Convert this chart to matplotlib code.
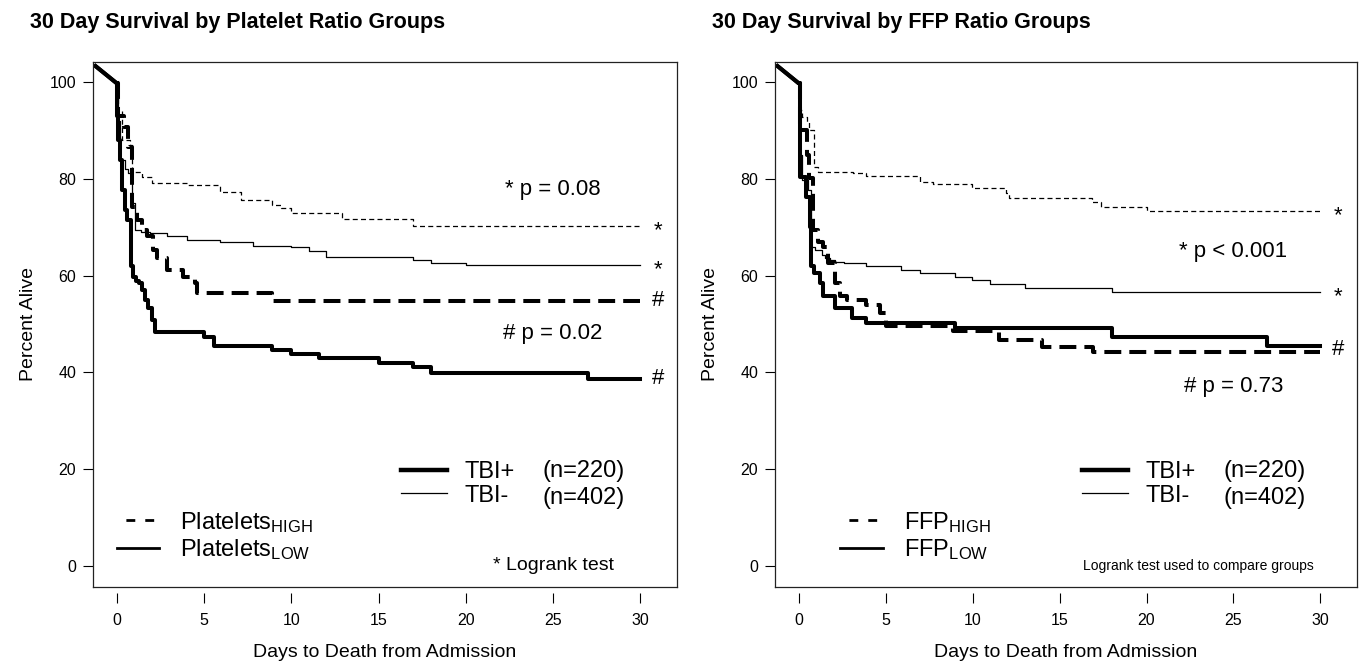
import matplotlib.pyplot as plt
from matplotlib.lines import Line2D

plt.rcParams['font.family'] = ['Liberation Sans', 'DejaVu Sans']
plt.rcParams['mathtext.fontset'] = 'custom'
plt.rcParams['mathtext.rm'] = 'Liberation Sans'
plt.rcParams['mathtext.it'] = 'Liberation Sans:italic'
plt.rcParams['mathtext.bf'] = 'Liberation Sans:bold'

# shared lead-in segment drawn before day 0
lead_x = [-1.3, 0.0]
lead_y = [103.6, 99.8]

# ---- Platelet ratio groups (days, percent alive) ----
plt_tbip_low_t = [0, 0.02, 0.1, 0.2, 0.3, 0.48, 0.6, 0.8, 0.96, 1.1, 1.25, 1.44, 1.63, 1.82, 2.0, 2.2,
                  5.0, 5.6, 8.9, 10.0, 11.6, 15.0, 17.0, 18.0, 27.0, 30]
plt_tbip_low_s = [99.8, 93, 88, 84, 77.7, 73.6, 71.5, 61.9, 59.8, 58.8, 58.4, 57.0, 55.0, 53.3, 50.8, 48.4,
                  47.4, 45.5, 44.6, 43.8, 42.9, 41.9, 41.0, 39.9, 38.6, 38.6]
plt_tbip_high_t = [0, 0.1, 0.4, 0.67, 0.86, 1.15, 1.45, 1.73, 2.1, 2.3, 2.9, 3.8, 4.5, 4.6, 8.9, 30]
plt_tbip_high_s = [99.8, 93, 90.8, 86.7, 74.3, 71.5, 69.5, 68.1, 65.3, 63.6, 61.2, 59.8, 58.4, 56.4, 54.8, 54.8]
plt_tbin_high_t = [0, 0.1, 0.3, 0.77, 0.85, 1.44, 2.0, 4.0, 5.9, 7.1, 8.9, 9.4, 10.0, 12.9, 17.0, 30]
plt_tbin_high_s = [99.8, 94, 88, 87, 81.5, 80.5, 79.1, 78.8, 77.4, 75.6, 74.6, 73.9, 72.9, 71.7, 70.3, 70.3]
plt_tbin_low_t = [0, 0.05, 0.2, 0.5, 0.67, 0.85, 1.06, 1.4, 1.9, 2.9, 4.0, 5.9, 7.8, 10.0, 11.0, 12.0,
                  17.0, 18.0, 20.0, 30]
plt_tbin_low_s = [99.8, 92, 84, 82, 81.2, 75, 69.4, 69.1, 68.8, 68.1, 67.4, 66.9, 66.2, 65.9, 65.0, 63.9,
                  63.2, 62.7, 62.2, 62.2]

# ---- FFP ratio groups ----
ffp_tbip_low_t = [0, 0.05, 0.1, 0.4, 0.66, 0.7, 0.9, 1.23, 1.4, 2.1, 3.05, 3.9, 9.0, 18.0, 26.9, 30]
ffp_tbip_low_s = [99.8, 89.5, 80.5, 76.3, 70.1, 61.9, 60.5, 58.4, 55.7, 53.3, 51.2, 50.2, 49.1, 47.4, 45.5, 45.5]
ffp_tbip_high_t = [0, 0.05, 0.1, 0.47, 0.6, 0.85, 1.13, 1.42, 1.7, 2.1, 2.4, 2.8, 3.9, 4.7, 5.0, 8.9,
                   11.5, 14.0, 16.95, 30]
ffp_tbip_high_s = [99.8, 93.6, 90.1, 85.0, 80.1, 69.4, 67.0, 66.0, 62.6, 58.4, 55.7, 55.0, 53.9, 52.2, 49.5,
                   48.6, 46.7, 45.3, 44.3, 44.3]
ffp_tbin_high_t = [0, 0.08, 0.2, 0.47, 0.6, 0.88, 1.13, 3.15, 3.9, 7.0, 7.7, 9.95, 11.9, 12.1, 16.85, 17.4,
                   20.0, 30]
ffp_tbin_high_s = [99.8, 94.3, 92.9, 91.8, 90.1, 82.5, 81.5, 81.2, 80.6, 79.4, 78.9, 78.2, 77.0, 76.1, 75.3,
                   74.3, 73.4, 73.4]
ffp_tbin_low_t = [0, 0.05, 0.1, 0.2, 0.56, 0.7, 0.94, 1.33, 1.5, 1.8, 2.1, 2.6, 3.9, 5.9, 7.0, 9.0, 9.95,
                  11.0, 13.0, 18.0, 30]
ffp_tbin_low_s = [99.8, 90, 85, 79.8, 77.7, 66.0, 65.3, 64.3, 63.6, 63.3, 62.9, 62.6, 61.9, 61.2, 60.6, 59.8,
                  59.1, 58.3, 57.5, 56.6, 56.6]

xticks = [0, 5, 10, 15, 20, 25, 30]
yticks = [0, 20, 40, 60, 80, 100]

# line styles
thick_dash = dict(color='black', lw=2.9, dashes=(4.2, 2.0))
thick_solid = dict(color='black', lw=2.9)
thin_dot = dict(color='black', lw=0.9, dashes=(4.0, 2.6))
thin_solid = dict(color='black', lw=0.9)


def survival_panel(ax, curves, title, group, pvals, marks, note, note_size, leg_x, title_x):
    for t, s, style in curves:
        ax.plot(lead_x, lead_y, solid_capstyle='butt', **{k: v for k, v in style.items() if k != 'dashes'})
        ax.step(t, s, where='post', **style)

    ax.set_xlim(-1.36, 32.1)
    ax.set_ylim(-4.4, 104.2)
    ax.set_yticks(yticks)
    ax.tick_params(axis='y', length=7, width=0.8, labelsize=11.5, pad=5)
    ax.tick_params(axis='x', bottom=False, labelbottom=False)
    for sp in ax.spines.values():
        sp.set_linewidth(0.9)
        sp.set_color('#222222')
    ax.set_ylabel('Percent Alive', fontsize=14, labelpad=9)

    # R-style x axis: ticks set below the box, no axis line
    sec = ax.secondary_xaxis(-0.012)
    sec.spines['bottom'].set_visible(False)
    sec.set_xticks(xticks)
    sec.tick_params(length=7, width=0.8, labelsize=11.5, pad=7)
    sec.set_xlabel('Days to Death from Admission', fontsize=14, labelpad=12)

    for txt, x, y in pvals:
        ax.text(x, y, txt, fontsize=16, ha='center', va='center')
    for txt, y in marks:
        ax.text(31.0, y, txt, fontsize=16, ha='center', va='center')

    # TBI legend
    h1 = [Line2D([], [], color='black', lw=3.2), Line2D([], [], color='black', lw=0.9)]
    leg1 = ax.legend(h1, ['TBI+', 'TBI-'], loc='center left', bbox_to_anchor=(16.3, 16.9),
                     bbox_transform=ax.transData, frameon=False, fontsize=17, handlelength=1.95,
                     handletextpad=0.75, labelspacing=0.05, borderpad=0, borderaxespad=0)
    ax.add_artist(leg1)
    ax.text(24.4, 19.6, '(n=220)', fontsize=17, ha='left', va='center')
    ax.text(24.4, 14.1, '(n=402)', fontsize=17, ha='left', va='center')

    # ratio group legend
    h2 = [Line2D([], [], color='black', lw=2.0, linestyle=(3.6, (3.2, 3.6))),
          Line2D([], [], color='black', lw=2.0)]
    ax.legend(h2, [group + r'$_{\mathrm{HIGH}}$', group + r'$_{\mathrm{LOW}}$'], loc='center left',
              bbox_to_anchor=(leg_x, 6.2), bbox_transform=ax.transData, frameon=False, fontsize=17,
              handlelength=1.8, handletextpad=0.9, labelspacing=0.1, borderpad=0, borderaxespad=0)

    ax.text(note[1], 0.0, note[0], fontsize=note_size, ha='center', va='center')
    ax.figure.text(title_x, 0.967, title, fontsize=15.5, fontweight='bold', ha='left', va='center')


fig = plt.figure(figsize=(13.69, 6.69), dpi=100)
ax1 = fig.add_axes([0.0679, 0.1226, 0.4266, 0.7848])
ax2 = fig.add_axes([0.5661, 0.1226, 0.4251, 0.7848])

survival_panel(ax1,
               [(plt_tbin_high_t, plt_tbin_high_s, thin_dot),
                (plt_tbin_low_t, plt_tbin_low_s, thin_solid),
                (plt_tbip_high_t, plt_tbip_high_s, thick_dash),
                (plt_tbip_low_t, plt_tbip_low_s, thick_solid)],
               '30 Day Survival by Platelet Ratio Groups', 'Platelets',
               [('* p = 0.08', 25.0, 77.9), ('# p = 0.02', 25.0, 48.1)],
               [('*', 69.3), ('*', 61.2), ('#', 54.9), ('#', 38.7)],
               ('* Logrank test', 25.0), 14, 0.0, 0.022)

survival_panel(ax2,
               [(ffp_tbin_high_t, ffp_tbin_high_s, thin_dot),
                (ffp_tbin_low_t, ffp_tbin_low_s, thin_solid),
                (ffp_tbip_high_t, ffp_tbip_high_s, thick_dash),
                (ffp_tbip_low_t, ffp_tbip_low_s, thick_solid)],
               '30 Day Survival by FFP Ratio Groups', 'FFP',
               [('* p < 0.001', 25.0, 65.0), ('# p = 0.73', 25.0, 37.0)],
               [('*', 72.4), ('*', 55.7), ('#', 44.8)],
               ('Logrank test used to compare groups', 23.0), 10, 2.4, 0.52)

fig.savefig('out.png', dpi=100)
